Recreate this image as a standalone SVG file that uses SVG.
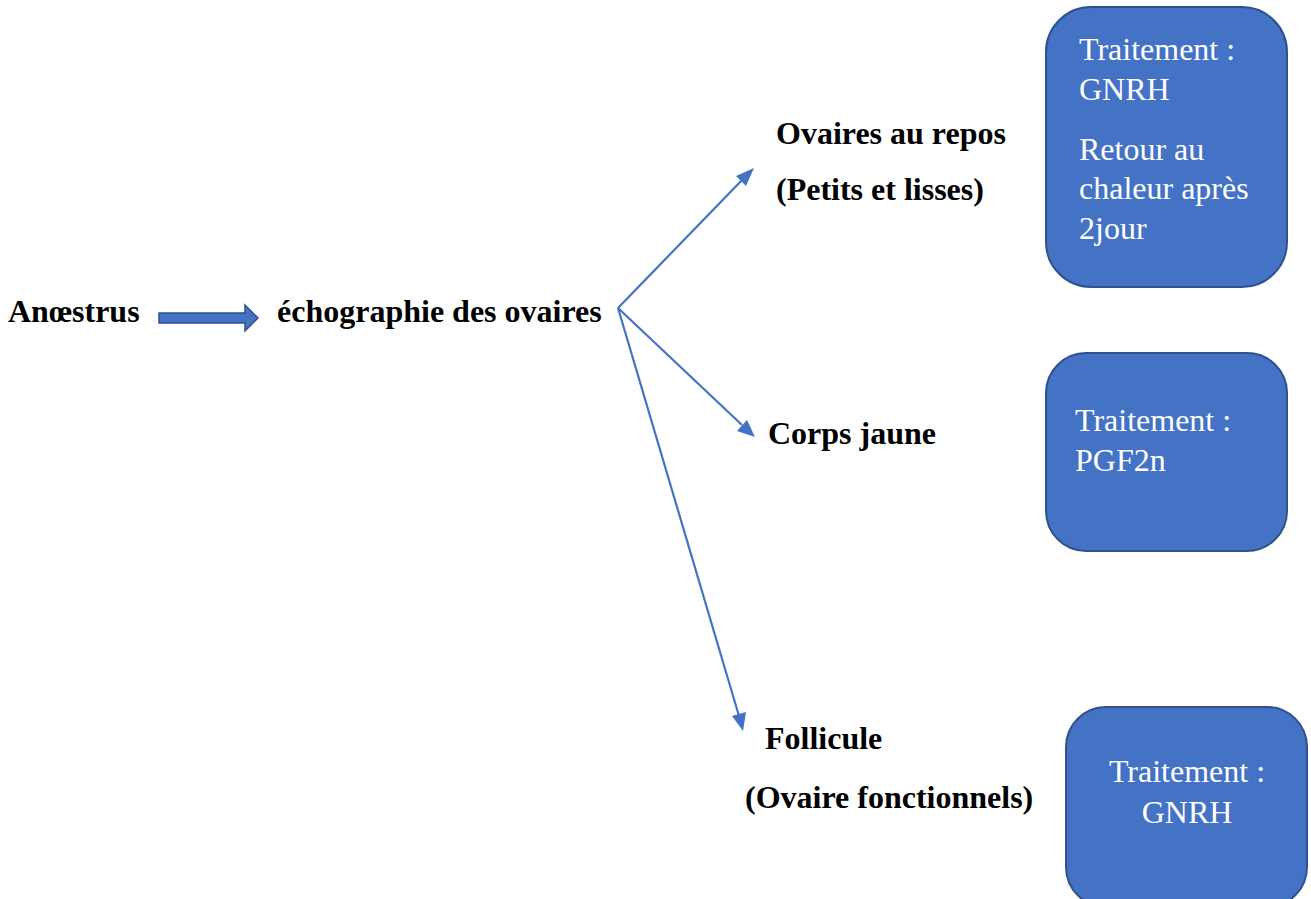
<svg xmlns="http://www.w3.org/2000/svg" width="1311" height="899" viewBox="0 0 1311 899">
<defs>
<style>
.lbl{font-family:"Liberation Serif","Times New Roman",serif;font-size:32px;font-weight:bold;fill:#000}
.box{fill:#4472C4;stroke:#2F528F;stroke-width:2}
.bt{font-family:"Liberation Serif","Times New Roman",serif;font-size:32px;fill:#fff}
.con{stroke:#4472C4;stroke-width:2.2;fill:none}
.head{fill:#4472C4}
</style>
</defs>
<rect width="1311" height="899" fill="#fff"/>
<g id="connectors">
<path class="con" d="M618,308 L744,178"/>
<polygon class="head" points="754,168 736,176 746,186"/>
<path class="con" d="M618,308 L742,425"/>
<polygon class="head" points="755,437 737,431 747,420"/>
<path class="con" d="M618,308 L739,716"/>
<polygon class="head" points="743,731 732,716 746,712"/>
<path d="M159,313 L245,313 L245,305 L258,318 L245,331 L245,323 L159,323 z" fill="#4472C4" stroke="#2F528F" stroke-width="1.5"/>
</g>
<g id="n-anoestrus"><text class="lbl" x="8" y="322">Anœstrus</text></g>
<g id="n-echo"><text class="lbl" x="277" y="322">échographie des ovaires</text></g>
<g id="n-repos"><text class="lbl" x="776" y="144">Ovaires au repos</text><text class="lbl" x="776" y="200">(Petits et lisses)</text></g>
<g id="n-corps"><text class="lbl" x="768" y="444">Corps jaune</text></g>
<g id="n-follicule"><text class="lbl" x="765" y="749">Follicule</text><text class="lbl" x="745" y="808">(Ovaire fonctionnels)</text></g>
<g id="b1"><rect class="box" x="1046" y="7" width="241" height="280" rx="45"/>
<text class="bt" x="1079" y="60">Traitement :</text><text class="bt" x="1079" y="100">GNRH</text>
<text class="bt" x="1079" y="160">Retour au</text><text class="bt" x="1079" y="199">chaleur après</text><text class="bt" x="1079" y="239">2jour</text></g>
<g id="b2"><rect class="box" x="1046" y="353" width="241" height="198" rx="40"/>
<text class="bt" x="1075" y="431">Traitement :</text><text class="bt" x="1075" y="471">PGF2n</text></g>
<g id="b3"><rect class="box" x="1066" y="707" width="241" height="200" rx="40"/>
<text class="bt" x="1187" y="782" text-anchor="middle">Traitement :</text><text class="bt" x="1187" y="823" text-anchor="middle">GNRH</text></g>
</svg>
